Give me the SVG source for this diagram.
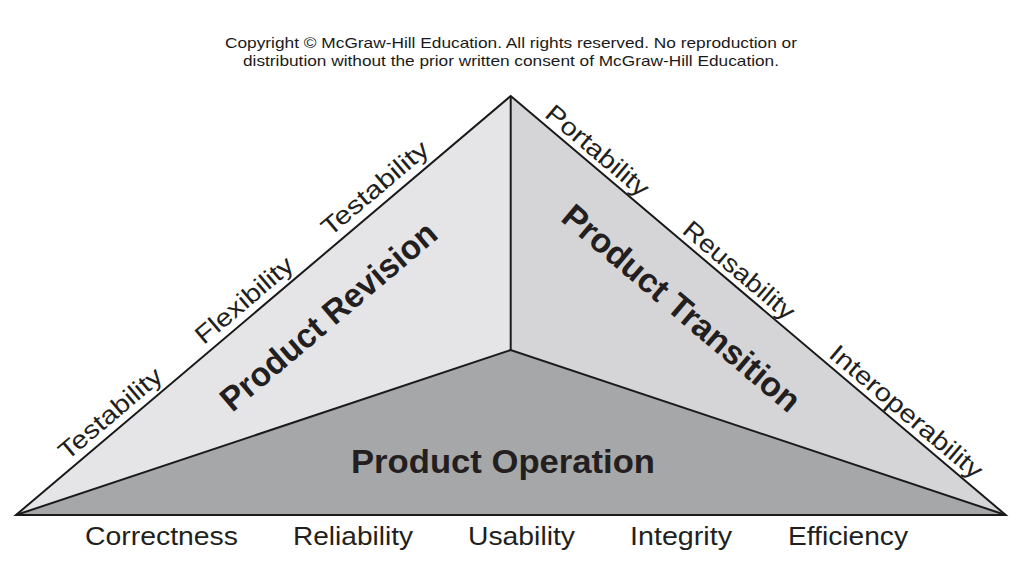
<svg xmlns="http://www.w3.org/2000/svg" width="1022" height="574" viewBox="0 0 1022 574">
<style>
.t{font-family:"Liberation Sans",Arial,sans-serif;fill:#231f20}
.cap{font-size:15px;text-anchor:middle;fill:#1a1a1a}
.q{font-size:25px}
.b{font-size:26px}
.h{font-size:34px;font-weight:bold;text-anchor:middle}
.edge{fill:none;stroke:#1a1a1a;stroke-width:2;stroke-linejoin:miter}
</style>
<rect width="1022" height="574" fill="#ffffff"/>
<g id="caption">
<text class="t cap" x="511" y="48" textLength="572" lengthAdjust="spacingAndGlyphs">Copyright © McGraw-Hill Education. All rights reserved. No reproduction or</text>
<text class="t cap" x="511" y="66" textLength="536" lengthAdjust="spacingAndGlyphs">distribution without the prior written consent of McGraw-Hill Education.</text>
</g>
<g id="product-revision">
<polygon points="510.7,96 16,515 510.7,350" fill="#e5e5e7"/>
<g transform="translate(16,515) rotate(-40.27)">
<text class="t q" x="74" y="-8" textLength="127" lengthAdjust="spacingAndGlyphs">Testability</text>
<text class="t q" x="253" y="-8" textLength="120" lengthAdjust="spacingAndGlyphs">Flexibility</text>
<text class="t q" x="419" y="-9" textLength="132" lengthAdjust="spacingAndGlyphs">Testability</text>
</g>
<text class="t h" transform="translate(336,325) rotate(-40.27)" x="0" y="0" textLength="272" lengthAdjust="spacingAndGlyphs">Product Revision</text>
</g>
<g id="product-transition">
<polygon points="510.7,96 1005.7,515 510.7,350" fill="#d5d5d7"/>
<g transform="translate(510.7,96) rotate(40.24)">
<text class="t q" x="38" y="-6" textLength="127" lengthAdjust="spacingAndGlyphs">Portability</text>
<text class="t q" x="218" y="-6" textLength="138" lengthAdjust="spacingAndGlyphs">Reusability</text>
<text class="t q" x="410" y="-6" textLength="192" lengthAdjust="spacingAndGlyphs">Interoperability</text>
</g>
<text class="t h" transform="translate(674,317) rotate(40.24)" x="0" y="0" textLength="300" lengthAdjust="spacingAndGlyphs">Product Transition</text>
</g>
<g id="product-operation">
<polygon points="16,515 510.7,350 1005.7,515" fill="#a6a7a9"/>
<text class="t h" x="503" y="473" textLength="304" lengthAdjust="spacingAndGlyphs">Product Operation</text>
<text class="t b" x="85" y="545" textLength="153" lengthAdjust="spacingAndGlyphs">Correctness</text>
<text class="t b" x="293" y="545" textLength="120" lengthAdjust="spacingAndGlyphs">Reliability</text>
<text class="t b" x="468" y="545" textLength="107" lengthAdjust="spacingAndGlyphs">Usability</text>
<text class="t b" x="630" y="545" textLength="102" lengthAdjust="spacingAndGlyphs">Integrity</text>
<text class="t b" x="788" y="545" textLength="120" lengthAdjust="spacingAndGlyphs">Efficiency</text>
</g>
<g id="connectors">
<polygon class="edge" points="510.7,96 1005.7,515 16,515"/>
<polyline class="edge" points="16,515 510.7,350 1005.7,515"/>
<line class="edge" x1="510.7" y1="96" x2="510.7" y2="350"/>
</g>
</svg>
